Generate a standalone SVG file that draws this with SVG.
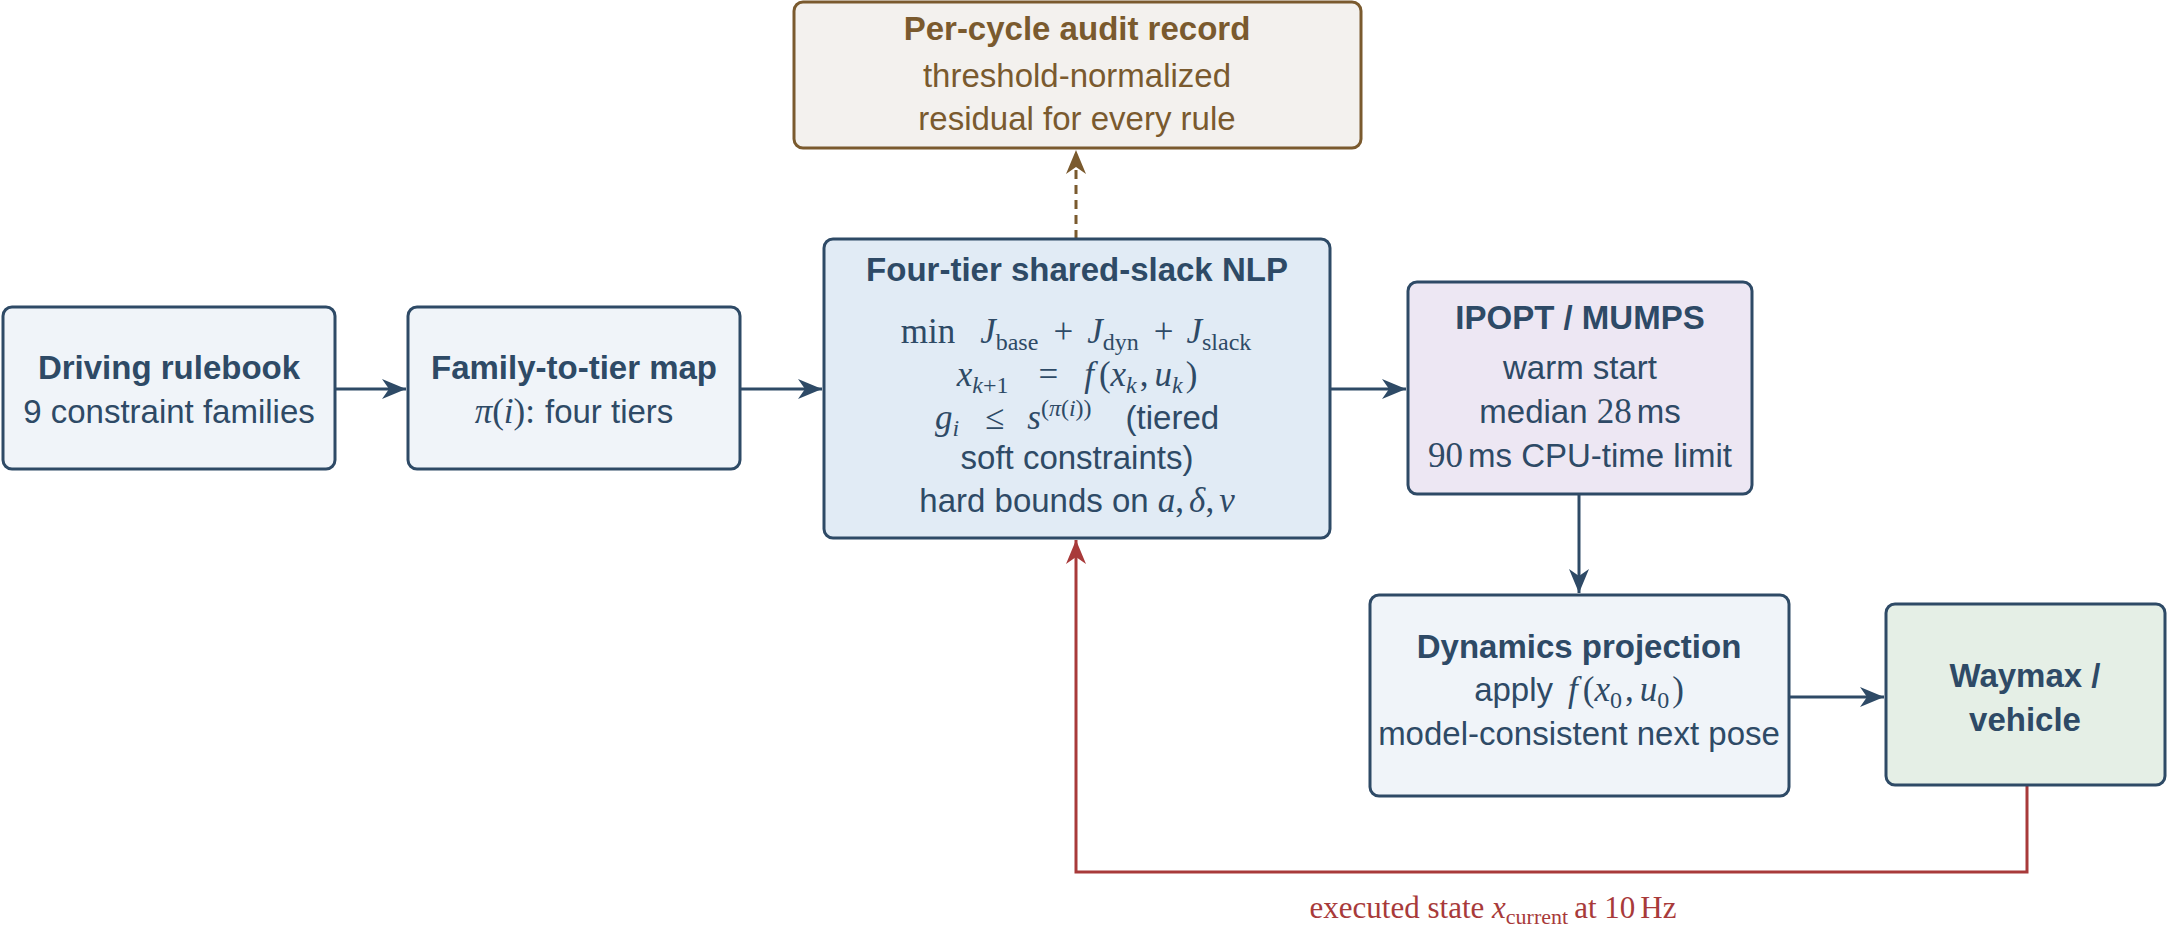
<svg xmlns="http://www.w3.org/2000/svg" width="2168" height="927" viewBox="0 0 2168 927">
<style>
.box{stroke:#2e4a66;stroke-width:3}
.t{font-family:"Liberation Sans",Arial,sans-serif;font-size:33px;fill:#2e4a66;text-anchor:middle}
.b{font-weight:bold}
.m{font-family:"Liberation Serif","Times New Roman",serif;font-size:35px}
.i{font-style:italic}
.s{font-size:24px}
.conn{fill:none;stroke:#2e4a66;stroke-width:3}
</style>
<defs>
<marker id="ab" markerUnits="userSpaceOnUse" markerWidth="26" markerHeight="22" refX="24" refY="10" orient="auto" viewBox="0 0 26 22"><path d="M0,0 L24,10 L0,20 L7,10 z" fill="#2e4a66"/></marker>
<marker id="ar" markerUnits="userSpaceOnUse" markerWidth="26" markerHeight="22" refX="24" refY="10" orient="auto" viewBox="0 0 26 22"><path d="M0,0 L24,10 L0,20 L7,10 z" fill="#a83a3a"/></marker>
<marker id="an" markerUnits="userSpaceOnUse" markerWidth="26" markerHeight="22" refX="24" refY="10" orient="auto" viewBox="0 0 26 22"><path d="M0,0 L24,10 L0,20 L7,10 z" fill="#7a5a2e"/></marker>
</defs>
<rect width="2168" height="927" fill="#ffffff"/>
<g id="connectors">
<path class="conn" d="M335,389 L406,389" marker-end="url(#ab)"/>
<path class="conn" d="M740,389 L822,389" marker-end="url(#ab)"/>
<path class="conn" d="M1330,389 L1406,389" marker-end="url(#ab)"/>
<path class="conn" d="M1579,494 L1579,593" marker-end="url(#ab)"/>
<path class="conn" d="M1789,697 L1884,697" marker-end="url(#ab)"/>
<path d="M1076,239 L1076,150" fill="none" stroke="#7a5a2e" stroke-width="3" stroke-dasharray="9,6" marker-end="url(#an)"/>
<path d="M2027,785 V872 H1076 V540" fill="none" stroke="#a83a3a" stroke-width="3" marker-end="url(#ar)"/>
<text x="1493" y="918" font-family="Liberation Serif,Times New Roman,serif" font-size="31" fill="#a83a3a" text-anchor="middle">executed state <tspan font-style="italic">x</tspan><tspan font-size="22" dy="6">current</tspan><tspan dy="-6" dx="6">at 10</tspan><tspan dx="5">Hz</tspan></text>
</g>
<g id="audit">
<rect x="794" y="2" width="567" height="146" rx="9" fill="#f3f1ee" stroke="#7a5a2e" stroke-width="3"/>
<text x="1077" y="40" class="t b" style="fill:#7a5a2e">Per-cycle audit record</text>
<text x="1077" y="87" class="t" style="fill:#7a5a2e">threshold-normalized</text>
<text x="1077" y="130" class="t" style="fill:#7a5a2e">residual for every rule</text>
</g>
<g id="rulebook">
<rect x="3" y="307" width="332" height="162" rx="9" class="box" fill="#f0f4f9"/>
<text x="169" y="379" class="t b">Driving rulebook</text>
<text x="169" y="423" class="t">9 constraint families</text>
</g>
<g id="family">
<rect x="408" y="307" width="332" height="162" rx="9" class="box" fill="#f0f4f9"/>
<text x="574" y="379" class="t b">Family-to-tier map</text>
<text x="574" y="423" class="t"><tspan class="m i">π</tspan><tspan class="m">(</tspan><tspan class="m i">i</tspan><tspan class="m">):</tspan><tspan dx="10">four tiers</tspan></text>
</g>
<g id="nlp">
<rect x="824" y="239" width="506" height="299" rx="9" class="box" fill="#e1ebf5"/>
<text x="1077" y="281" class="t b">Four-tier shared-slack NLP</text>
<text x="1076" y="343" class="t m"><tspan>min</tspan><tspan class="i" dx="25">J</tspan><tspan class="s" dy="7">base</tspan><tspan dy="-7" dx="15">+</tspan><tspan class="i" dx="14">J</tspan><tspan class="s" dy="7">dyn</tspan><tspan dy="-7" dx="15">+</tspan><tspan class="i" dx="13">J</tspan><tspan class="s" dy="7">slack</tspan></text>
<text x="1077" y="386" class="t m"><tspan class="i">x</tspan><tspan class="s i" dy="7">k</tspan><tspan class="s">+1</tspan><tspan dy="-7" dx="30">=</tspan><tspan class="i" dx="26">f</tspan><tspan dx="5">(</tspan><tspan class="i">x</tspan><tspan class="s i" dy="7">k</tspan><tspan dy="-7" dx="3">,</tspan><tspan class="i" dx="6">u</tspan><tspan class="s i" dy="7">k</tspan><tspan dy="-7" dx="3">)</tspan></text>
<text x="1077" y="429" class="t"><tspan class="m i">g</tspan><tspan class="m i s" dy="7">i</tspan><tspan class="m" dy="-7" dx="26">≤</tspan><tspan class="m i" dx="23">s</tspan><tspan class="m s" dy="-13">(</tspan><tspan class="m s i">π</tspan><tspan class="m s">(</tspan><tspan class="m s i">i</tspan><tspan class="m s">))</tspan><tspan dy="13" dx="34">(tiered</tspan></text>
<text x="1077" y="469" class="t">soft constraints)</text>
<text x="1077" y="512" class="t">hard bounds on <tspan class="m i">a</tspan><tspan class="m">,</tspan><tspan class="m i" dx="5">δ</tspan><tspan class="m">,</tspan><tspan class="m i" dx="5">v</tspan></text>
</g>
<g id="ipopt">
<rect x="1408" y="282" width="344" height="212" rx="9" class="box" fill="#ede7f3"/>
<text x="1580" y="329" class="t b">IPOPT / MUMPS</text>
<text x="1580" y="379" class="t">warm start</text>
<text x="1580" y="423" class="t">median <tspan class="m">28</tspan><tspan dx="5">ms</tspan></text>
<text x="1580" y="467" class="t"><tspan class="m">90</tspan><tspan dx="5">ms CPU-time limit</tspan></text>
</g>
<g id="dynamics">
<rect x="1370" y="595" width="419" height="201" rx="9" class="box" fill="#f0f4f9"/>
<text x="1579" y="658" class="t b">Dynamics projection</text>
<text x="1579" y="701" class="t">apply<tspan class="m i" dx="15">f</tspan><tspan class="m" dx="5">(</tspan><tspan class="m i">x</tspan><tspan class="m s" dy="7">0</tspan><tspan class="m" dy="-7" dx="3">,</tspan><tspan class="m i" dx="6">u</tspan><tspan class="m s" dy="7">0</tspan><tspan class="m" dy="-7" dx="3">)</tspan></text>
<text x="1579" y="745" class="t">model-consistent next pose</text>
</g>
<g id="waymax">
<rect x="1886" y="604" width="279" height="181" rx="9" class="box" fill="#e5efe6"/>
<text x="2025" y="687" class="t b">Waymax /</text>
<text x="2025" y="731" class="t b">vehicle</text>
</g>
</svg>
